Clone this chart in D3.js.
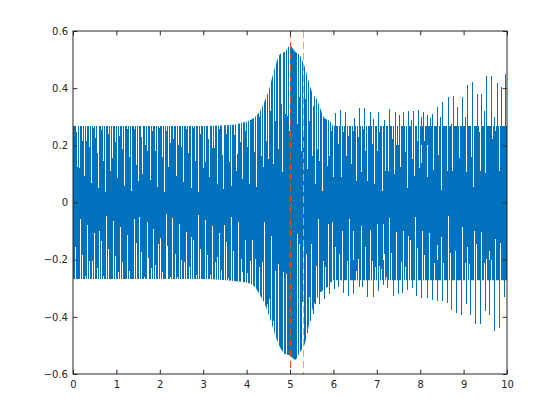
<!DOCTYPE html>
<html>
<head>
<meta charset="utf-8">
<script src="https://cdn.jsdelivr.net/npm/d3@7"></script>
<style>
	body { margin: 0; background: #fff; }
	.tick text { font-family: 'DejaVu Sans', sans-serif; font-size: 10px; fill: #262626; }
	.tick line { stroke: #262626; }
</style>
</head>
<body>
<div id="chart"></div>
<script>
// envelope of the dense signal (solid blue band)
var envT  = [0, 1, 2, 3, 3.5, 3.8, 4.0, 4.2, 4.31, 4.42, 4.54, 4.65, 4.77, 4.88, 5.0, 5.12, 5.23, 5.35, 5.42, 5.46, 5.53, 5.62, 5.69, 5.76, 5.85, 5.92, 6.0, 7, 8, 9, 10];
var envHi = [0.268, 0.268, 0.268, 0.268, 0.27, 0.275, 0.283, 0.30, 0.32, 0.356, 0.408, 0.472, 0.519, 0.527, 0.548, 0.527, 0.513, 0.47, 0.43, 0.408, 0.38, 0.36, 0.333, 0.303, 0.29, 0.285, 0.268, 0.268, 0.268, 0.268, 0.268];
var envLo = [-0.268, -0.268, -0.268, -0.268, -0.272, -0.276, -0.28, -0.297, -0.325, -0.355, -0.407, -0.46, -0.506, -0.53, -0.535, -0.55, -0.524, -0.49, -0.44, -0.41, -0.367, -0.337, -0.32, -0.305, -0.297, -0.29, -0.272, -0.272, -0.272, -0.272, -0.272];

// single peaks sticking out of the band
var upT = [6.04, 6.15, 6.27, 6.47, 6.59, 6.71, 6.84, 6.91, 7.03, 7.17, 7.28, 7.42, 7.51, 7.60, 7.72, 7.78, 7.83, 7.95, 8.02, 8.06, 8.16, 8.22, 8.27, 8.39, 8.45, 8.50, 8.64, 8.71, 8.76, 8.85, 8.96, 9.04, 9.08, 9.19, 9.31, 9.40, 9.46, 9.52, 9.63, 9.70, 9.77, 9.86, 9.95];
var upV = [0.312, 0.323, 0.317, 0.296, 0.329, 0.329, 0.317, 0.291, 0.317, 0.29, 0.327, 0.317, 0.305, 0.315, 0.321, 0.29, 0.321, 0.324, 0.30, 0.317, 0.307, 0.296, 0.31, 0.333, 0.3, 0.35, 0.37, 0.275, 0.373, 0.335, 0.37, 0.3, 0.412, 0.422, 0.381, 0.381, 0.32, 0.443, 0.443, 0.3, 0.419, 0.405, 0.449];
var downT = [5.39, 5.46, 5.53, 5.58, 5.67, 5.78, 5.90, 6.01, 6.11, 6.22, 6.34, 6.45, 6.59, 6.66, 6.77, 6.91, 7.03, 7.14, 7.24, 7.37, 7.49, 7.58, 7.70, 7.81, 7.90, 8.02, 8.16, 8.27, 8.39, 8.50, 8.62, 8.71, 8.82, 8.94, 9.06, 9.15, 9.26, 9.38, 9.49, 9.59, 9.70, 9.82, 9.93];
var downV = [-0.457, -0.413, -0.39, -0.355, -0.355, -0.337, -0.32, -0.302, -0.296, -0.316, -0.326, -0.32, -0.296, -0.296, -0.332, -0.332, -0.31, -0.29, -0.30, -0.326, -0.32, -0.318, -0.305, -0.30, -0.326, -0.334, -0.334, -0.34, -0.343, -0.346, -0.353, -0.375, -0.386, -0.393, -0.355, -0.393, -0.425, -0.425, -0.38, -0.393, -0.448, -0.44, -0.33];

// white gaps inside the band (where the trace does not reach the envelope)
var gapTopT = [0.06, 0.10, 0.145, 0.215, 0.26, 0.31, 0.37, 0.415, 0.47, 0.51, 0.545, 0.585, 0.645, 0.70, 0.745, 0.815, 0.86, 0.905, 0.975, 1.02, 1.07, 1.13, 1.18, 1.24, 1.29, 1.345, 1.41, 1.45, 1.5, 1.56, 1.6, 1.66, 1.71, 1.77, 1.82, 1.88, 1.94, 1.99, 2.05, 2.1, 2.14, 2.2, 2.23, 2.31, 2.37, 2.43, 2.48, 2.54, 2.6, 2.66, 2.71, 2.76, 2.82, 2.87, 2.93, 2.99, 3.05, 3.1, 3.14, 3.2, 3.26, 3.31, 3.37, 3.43, 3.46, 3.53, 3.59, 3.64, 3.7, 3.76,
	3.786, 3.848, 3.901, 3.963, 4.017, 4.055, 4.178, 4.224, 4.293, 4.332, 4.386, 4.44, 4.486, 4.539, 4.601, 4.662, 4.716, 4.785, 4.823, 4.885, 4.938, 4.977, 5.154, 5.207, 5.253, 5.292, 5.346, 5.384, 5.445, 5.5, 5.538, 5.584, 5.63, 5.676, 5.737, 5.845, 5.899, 5.945, 5.998,
	6.113, 6.175, 6.228, 6.283, 6.344, 6.398, 6.46, 6.514, 6.575, 6.629, 6.675, 6.728, 6.781, 6.843, 6.897, 6.943, 6.997, 7.051, 7.112, 7.2, 7.265, 7.343, 7.396, 7.442, 7.496, 7.535, 7.65, 7.703, 7.803, 7.857, 7.918, 7.972, 8.01, 8.095, 8.149, 8.303, 8.418, 8.472, 8.61, 8.733, 8.856, 8.894, 8.956, 9.055, 9.178, 9.224, 9.347, 9.378, 9.5, 9.654, 9.724, 9.816];
var gapTopV = [0.245, 0.123, 0.12, 0.216, 0.091, 0.214, 0.193, 0.067, 0.26, 0.225, 0.172, 0.049, 0.253, 0.144, 0.035, 0.239, 0.111, 0.156, 0.21, 0.084, 0.233, 0.187, 0.059, 0.257, 0.16, 0.041, 0.257, 0.132, 0.074, 0.228, 0.1, 0.202, 0.181, 0.077, 0.249, 0.181, 0.055, 0.26, 0.158, 0.038, 0.251, 0.125, 0.207, 0.222, 0.094, 0.202, 0.193, 0.07, 0.257, 0.172, 0.049, 0.26, 0.146, 0.035, 0.239, 0.12, 0.14, 0.222, 0.088, 0.19, 0.19, 0.064, 0.257, 0.167, 0.047, 0.239, 0.14, 0.057, 0.237, 0.111,
	0.17, 0.21, 0.082, 0.251, 0.193, 0.065, 0.175, 0.053, 0.298, 0.164, 0.123, 0.216, 0.152, 0.321, 0.135, 0.286, 0.187, 0.344, 0.105, 0.309, 0.303, 0.251, 0.274, 0.37, 0.181, 0.239, 0.362, 0.117, 0.286, 0.164, 0.338, 0.065, 0.187, 0.146, 0.041, 0.129, 0.164, 0.251, 0.088,
	0.205, 0.088, 0.245, 0.164, 0.234, 0.135, 0.251, 0.076, 0.228, 0.105, 0.257, 0.181, 0.076, 0.234, 0.205, 0.065, 0.181, 0.245, 0.039, 0.111, 0.111, 0.222, 0.1, 0.202, 0.202, 0.125, 0.175, 0.049, 0.152, 0.094, 0.216, 0.119, 0.137, 0.214, 0.088, 0.115, 0.167, 0.045, 0.111, 0.109, 0.21, 0.154, 0.239, 0.105, 0.158, 0.053, 0.245, 0.109, 0.102, 0.222, 0.251, 0.109];
var gapBotT = [0.046, 0.161, 0.215, 0.284, 0.33, 0.376, 0.438, 0.491, 0.545, 0.607, 0.653, 0.699, 0.768, 0.814, 0.929, 0.975, 1.044, 1.09, 1.136, 1.251, 1.297, 1.405, 1.452, 1.528, 1.574, 1.628, 1.697, 1.735, 1.804, 1.85, 1.896, 1.965, 2.012, 2.058, 2.135, 2.173, 2.235, 2.288, 2.343, 2.404, 2.45, 2.496, 2.558, 2.611, 2.665, 2.719, 2.773, 2.826, 2.888, 2.934, 3.049, 3.095, 3.157, 3.21, 3.265, 3.326, 3.372, 3.418, 3.48, 3.533, 3.579, 3.648, 3.694, 3.809,
	3.863, 3.902, 3.963, 4.017, 4.078, 4.132, 4.194, 4.247, 4.293, 4.362, 4.408, 4.462, 4.516, 4.569, 4.615, 4.662, 4.731, 4.846, 4.9, 5.154, 5.215, 5.269, 5.307, 5.369, 5.438, 5.484, 5.538, 5.599, 5.653, 5.692, 5.753, 5.807, 5.868, 5.922, 5.968,
	6.037, 6.137, 6.19, 6.306, 6.36, 6.46, 6.521, 6.575, 6.629, 6.728, 6.782, 6.843, 6.897, 6.951, 6.997, 7.043, 7.097, 7.135, 7.174, 7.205, 7.289, 7.335, 7.442, 7.55, 7.611, 7.657, 7.719, 7.765, 7.888, 7.934, 8.049, 8.095, 8.21, 8.264, 8.318, 8.379, 8.487, 8.533, 8.648, 8.694, 8.809, 8.97, 9.024, 9.086, 9.132, 9.247, 9.293, 9.408, 9.462, 9.516, 9.585, 9.631, 9.693, 9.731, 9.846];
var gapBotV = [-0.154, -0.058, -0.183, -0.256, -0.078, -0.204, -0.204, -0.107, -0.229, -0.101, -0.136, -0.256, -0.046, -0.163, -0.064, -0.186, -0.244, -0.085, -0.209, -0.112, -0.238, -0.058, -0.143, -0.05, -0.172, -0.26, -0.069, -0.194, -0.229, -0.093, -0.218, -0.145, -0.124, -0.244, -0.04, -0.151, -0.26, -0.054, -0.18, -0.262, -0.075, -0.201, -0.207, -0.104, -0.227, -0.122, -0.131, -0.252, -0.044, -0.163, -0.061, -0.184, -0.252, -0.081, -0.207, -0.192, -0.108, -0.236, -0.079, -0.139, -0.264, -0.05, -0.169, -0.067,
	-0.198, -0.244, -0.131, -0.248, -0.203, -0.131, -0.198, -0.318, -0.227, -0.209, -0.069, -0.355, -0.337, -0.116, -0.413, -0.238, -0.215, -0.244, -0.25, -0.11, -0.145, -0.349, -0.137, -0.18, -0.332, -0.145, -0.349, -0.221, -0.058, -0.314, -0.203, -0.227, -0.075, -0.279, -0.067,
	-0.157, -0.18, -0.099, -0.203, -0.058, -0.099, -0.238, -0.198, -0.081, -0.157, -0.209, -0.096, -0.203, -0.227, -0.075, -0.221, -0.232, -0.075, -0.18, -0.262, -0.054, -0.178, -0.102, -0.209, -0.099, -0.227, -0.116, -0.13, -0.05, -0.16, -0.099, -0.182, -0.106, -0.206, -0.212, -0.15, -0.12, -0.21, -0.046, -0.178, -0.169, -0.087, -0.213, -0.157, -0.216, -0.099, -0.146, -0.102, -0.21, -0.198, -0.171, -0.201, -0.22, -0.126, -0.143];

var markT = [5, 5.31];
var markColor = ['#D95319', '#EDB120'];

var xTicks = [0, 1, 2, 3, 4, 5, 6, 7, 8, 9, 10];
var yTicks = [-0.6, -0.4, -0.2, 0, 0.2, 0.4, 0.6];

var svg = d3.select('#chart').append('svg').attr('width', 560).attr('height', 420);

var xScale = d3.scaleLinear().domain([0, 10]).range([73, 507]);
var yScale = d3.scaleLinear().domain([-0.6, 0.6]).range([374, 31]);

var blue = '#0072BD';

var band = envT.map(function(t, i) { return { t: t, hi: envHi[i], lo: envLo[i] }; });

var area = d3.area()
	.x(function(d) { return xScale(d.t); })
	.y0(function(d) { return yScale(d.lo); })
	.y1(function(d) { return yScale(d.hi); })
	.curve(d3.curveMonotoneX);

svg.append('path')
	.attr('d', area(band))
	.attr('fill', blue);

function px(t) { return Math.round(xScale(t)) + 0.5; }

function strokes(ts, vs, from, color, w) {
	svg.append('g').selectAll('line')
		.data(ts.map(function(t, i) { return { t: t, v: vs[i] }; }))
		.enter().append('line')
		.attr('x1', function(d) { return px(d.t); })
		.attr('x2', function(d) { return px(d.t); })
		.attr('y1', yScale(from))
		.attr('y2', function(d) { return yScale(d.v); })
		.attr('stroke', color)
		.attr('stroke-width', w)
		.attr('shape-rendering', 'crispEdges');
}

strokes(gapTopT, gapTopV, 0.58, '#fff', 1);
strokes(gapBotT, gapBotV, -0.58, '#fff', 1);
strokes(upT, upV, 0.2, blue, 1);
strokes(downT, downV, -0.2, blue, 1);

markT.forEach(function(t, i) {
	svg.append('line')
		.attr('x1', px(t))
		.attr('x2', px(t))
		.attr('y1', 31)
		.attr('y2', 374)
		.attr('stroke', markColor[i])
		.attr('stroke-width', 1)
		.attr('stroke-dasharray', '7,4');
});

// axes, ticks pointing inward, box on
var tl = 4.3;
svg.append('g')
	.attr('transform', 'translate(0,374)')
	.call(d3.axisBottom(xScale).tickValues(xTicks).tickSizeInner(-tl).tickSizeOuter(0).tickPadding(7).tickFormat(d3.format('d')));
svg.append('g')
	.attr('transform', 'translate(0,31)')
	.call(d3.axisTop(xScale).tickValues(xTicks).tickSizeInner(-tl).tickSizeOuter(0).tickFormat(''));
svg.append('g')
	.attr('transform', 'translate(73,0)')
	.call(d3.axisLeft(yScale).tickValues(yTicks).tickSizeInner(-tl).tickSizeOuter(0).tickPadding(5).tickFormat(function(d) { return d === 0 ? '0' : d3.format('.1f')(d); }));
svg.append('g')
	.attr('transform', 'translate(507,0)')
	.call(d3.axisRight(yScale).tickValues(yTicks).tickSizeInner(-tl).tickSizeOuter(0).tickFormat(''));

svg.selectAll('.domain').remove();

svg.append('rect')
	.attr('x', 73)
	.attr('y', 31)
	.attr('width', 434)
	.attr('height', 343)
	.attr('fill', 'none')
	.attr('stroke', '#262626')
	.attr('stroke-width', 1);
</script>
</body>
</html>
